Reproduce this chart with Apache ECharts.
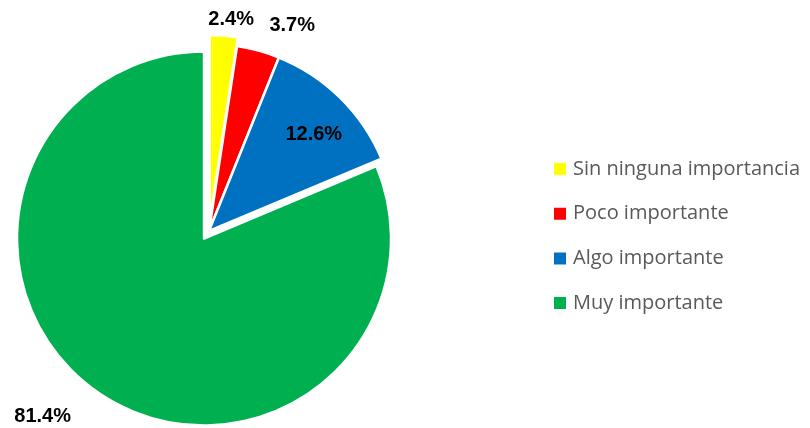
<!DOCTYPE html>
<html>
<head>
<meta charset="utf-8">
<script src="https://cdn.jsdelivr.net/npm/echarts@6/dist/echarts.min.js"></script>
<style>
  html, body { margin: 0; padding: 0; background: #fff; }
  #chart { width: 810px; height: 428px; }
</style>
</head>
<body>
<div id="chart"></div>
<script>
// categorías y valores (%)
const categories = ['Sin ninguna importancia', 'Poco importante', 'Algo importante', 'Muy importante'];
const values = [2.4, 3.7, 12.6, 81.4];
const colors = ['#FFFF00', '#FF0000', '#0070C0', '#00B050'];
const exploded = [true, false, false, true];

const chart = echarts.init(document.getElementById('chart'));

// ajustes de etiquetas para acercarse al original
const labelCfg = [
  { position: 'outside' },
  { position: 'outside', offset: [4, -17] },
  { position: 'inside', offset: [37, -28] },
  { position: 'outside' }
];
// las porciones separadas ignoran offset, se mueven con labelLayout
const labelShift = [[-21, -8], [0, 0], [0, 0], [-20, 16]];

const option = {
  animation: false,
  legend: {
    orient: 'vertical',
    left: 552,
    top: 159,
    padding: 0,
    itemWidth: 14,
    itemHeight: 14,
    itemGap: 24.7,
    icon: 'rect',
    data: categories,
    textStyle: {
      fontFamily: 'Open Sans',
      fontSize: 20,
      lineHeight: 20,
      color: '#595959',
      padding: [0, 0, 0, 1]
    }
  },
  series: [{
    type: 'pie',
    center: [209, 231],
    radius: 187,
    startAngle: 90,
    selectedMode: 'multiple',
    selectedOffset: 9,
    avoidLabelOverlap: false,
    itemStyle: { borderColor: '#fff', borderWidth: 2.5 },
    label: {
      formatter: p => p.value.toFixed(1) + '%',
      fontFamily: 'Liberation Sans',
      fontWeight: 'bold',
      fontSize: 20,
      color: '#000'
    },
    labelLine: { show: false, length: 8, length2: 0 },
    labelLayout: p => ({ dx: labelShift[p.dataIndex][0], dy: labelShift[p.dataIndex][1] }),
    emphasis: { disabled: true },
    data: categories.map((name, i) => ({
      name: name,
      value: values[i],
      selected: exploded[i],
      itemStyle: { color: colors[i] },
      label: labelCfg[i]
    }))
  }]
};

chart.setOption(option);
</script>
</body>
</html>
